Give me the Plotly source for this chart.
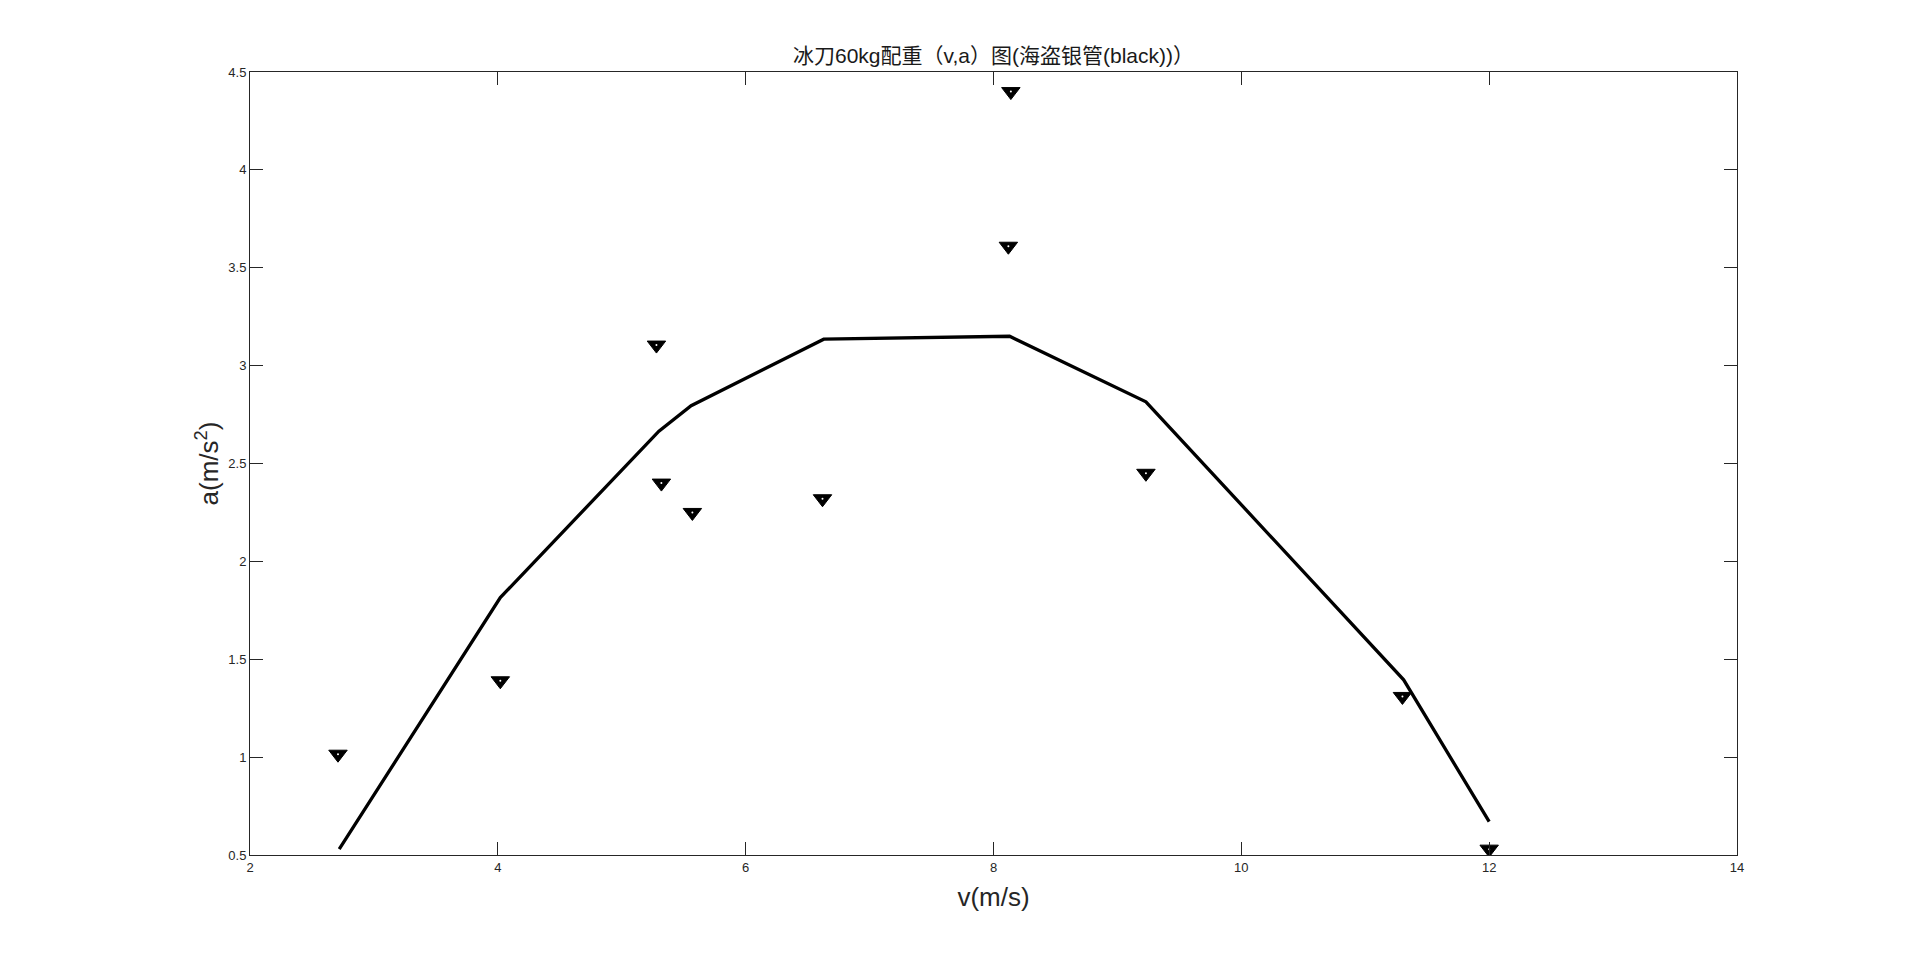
import plotly.graph_objects as go

# fitted curve (line)
line_v = [2.72, 4.02, 5.30, 5.56, 6.63, 8.13, 9.23, 11.31, 12.00]
line_a = [0.53, 1.815, 2.665, 2.795, 3.135, 3.15, 2.815, 1.395, 0.67]

# measured points (markers)
pt_v = [2.71, 4.02, 5.28, 5.32, 5.57, 6.62, 8.12, 8.14, 9.23, 11.30, 12.00]
pt_a = [1.015, 1.39, 3.105, 2.40, 2.25, 2.32, 3.61, 4.40, 2.45, 1.31, 0.53]

x_ticks = [2, 4, 6, 8, 10, 12, 14]
y_ticks = [0.5, 1, 1.5, 2, 2.5, 3, 3.5, 4, 4.5]
y_tick_text = ["0.5", "1", "1.5", "2", "2.5", "3", "3.5", "4", "4.5"]

fig = go.Figure()
fig.add_trace(go.Scatter(x=line_v, y=line_a, mode="lines",
                         line=dict(color="black", width=3.3), showlegend=False))
fig.add_trace(go.Scatter(x=pt_v, y=pt_a, mode="markers",
                         marker=dict(symbol="triangle-down", size=16, color="black",
                                     line=dict(color="black", width=1)),
                         showlegend=False))
fig.add_trace(go.Scatter(x=pt_v, y=pt_a, mode="markers",
                         marker=dict(symbol="circle", size=2, color="white", line=dict(width=0)),
                         showlegend=False))

font_family = "Liberation Sans, Arial, Noto Sans CJK SC, sans-serif"
axis_common = dict(showline=True, linecolor="#262626", linewidth=1, mirror="ticks",
                   ticks="inside", ticklen=13, tickcolor="#262626", tickwidth=1,
                   showgrid=False, zeroline=False,
                   tickfont=dict(family=font_family, size=13, color="#262626"))

# page body has an 8px offset, margins compensate
fig.update_layout(
    width=1920, height=962,
    paper_bgcolor="white", plot_bgcolor="white",
    margin=dict(l=242, r=191, t=64, b=115),
    title=dict(text="冰刀60kg配重（v,a）图(海盗银管(black))）",
               x=(242 + 1729) / 2 / 1920, xanchor="center", y=1 - 48 / 962, yanchor="middle",
               font=dict(family="Liberation Sans, Noto Sans CJK SC, sans-serif", size=21, color="#1a1a1a")),
    xaxis=dict(range=[2, 14], tickvals=x_ticks, ticktext=[str(t) for t in x_ticks],
               title=dict(text="v(m/s)", standoff=14,
                          font=dict(family=font_family, size=26, color="#262626")),
               **axis_common),
    yaxis=dict(range=[0.5, 4.5], tickvals=y_ticks, ticktext=y_tick_text,
               title=dict(text="a(m/s<sup>2</sup>)", standoff=2,
                          font=dict(family=font_family, size=26, color="#262626")),
               **axis_common),
)

fig.write_html("out.html")
